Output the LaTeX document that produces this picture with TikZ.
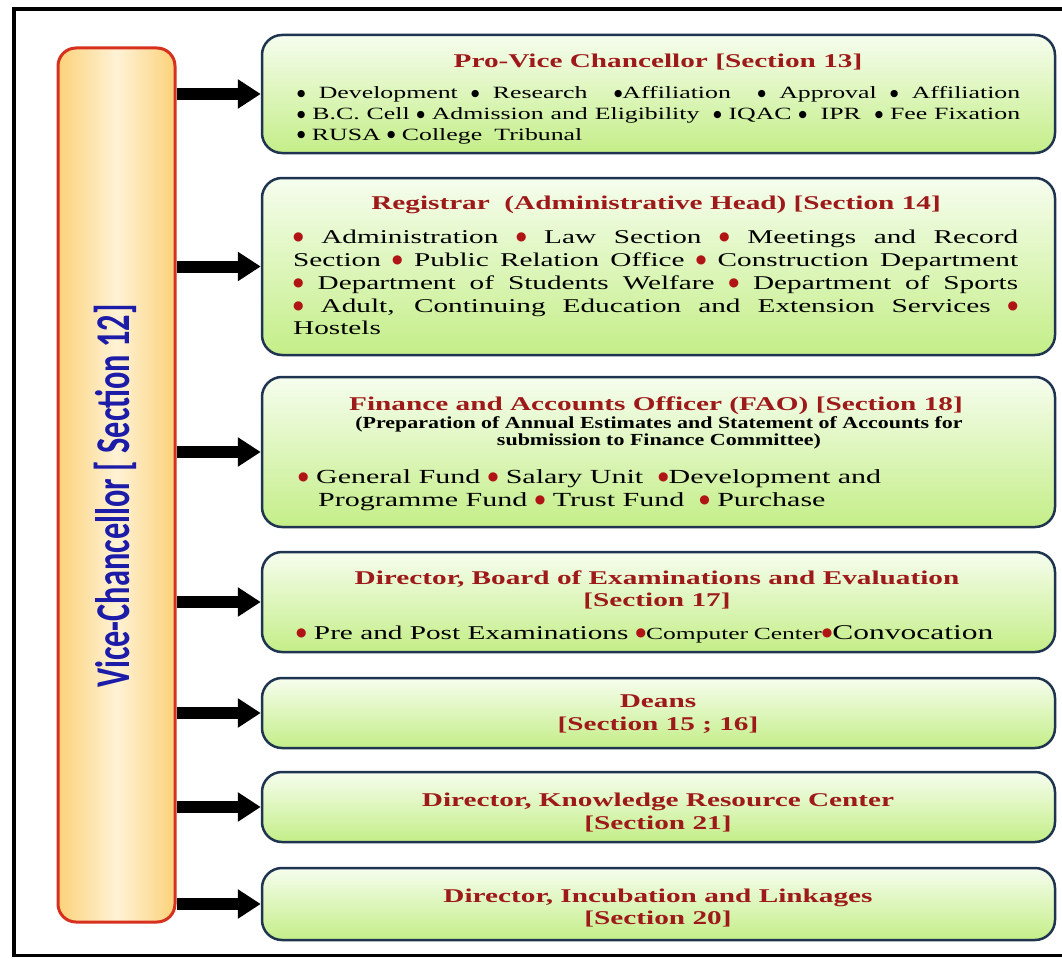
\documentclass[tikz,border=0pt]{standalone}
\usepackage{fontspec}
\setmainfont{Liberation Serif}
\newfontfamily\sfont[FakeStretch=1.5]{Liberation Serif}
\newfontfamily\subfnt[FakeStretch=1.3]{Liberation Serif}
\newfontfamily\vcfont[FakeStretch=0.667]{Carlito}
\newfontfamily\dvfont{DejaVu Sans}
\usetikzlibrary{arrows.meta}
\definecolor{navy}{HTML}{1F3450}
\definecolor{gtop}{HTML}{F6FDEE}
\definecolor{gbot}{HTML}{C4EE88}
\definecolor{vcred}{HTML}{D8301E}
\definecolor{vclight}{HTML}{FFF2D6}
\definecolor{vcdark}{HTML}{FBD27A}
\definecolor{vcblue}{HTML}{1C1CA8}
\definecolor{tred}{HTML}{9E1A1A}
\definecolor{bred}{HTML}{B01414}
\newcommand{\rb}{\smash{\raisebox{2.6pt}{\textcolor{bred}{\dvfont\fontsize{12}{0}\selectfont ●}}}}
\newcommand{\kb}{\smash{\raisebox{2.2pt}{\dvfont\fontsize{9.5}{0}\selectfont ●}}}
\tikzset{
  gbox/.style={draw=navy, line width=2.5pt, rounded corners=20pt, top color=gtop, bottom color=gbot, minimum width=793pt, inner sep=0pt},
  vcbox/.style={draw=vcred, line width=3pt, rounded corners=18pt, left color=vcdark, right color=vcdark, middle color=vclight, inner sep=0pt},
  arr/.style={line width=12pt, -{Triangle[width=28pt,length=23pt]}},
  ttl/.style={anchor=base, inner sep=0pt, text=tred, font=\sfont\bfseries\fontsize{19.5}{23}\selectfont},
  subt/.style={anchor=base, inner sep=0pt, text=black, font=\subfnt\bfseries\fontsize{16.9}{20}\selectfont},
  bodyA/.style={anchor=base west, inner sep=0pt, text=black, font=\sfont\fontsize{17.2}{20.5}\selectfont},
  bodyB/.style={anchor=base west, inner sep=0pt, text=black, font=\sfont\fontsize{19.5}{23}\selectfont},
  bodyC/.style={anchor=base west, inner sep=0pt, text=black, font=\sfont\fontsize{20}{23}\selectfont},
}
\begin{document}
\begin{tikzpicture}[x=1pt,y=-1pt]
\useasboundingbox (0,0) rectangle (1062,963);
\fill[white] (0,0) rectangle (1062,963);
% frame
\draw[line width=3.5pt] (1070,9) -- (14,9) -- (14,955.5) -- (1070,955.5);
% boxes (shapes)
\node[gbox, minimum height=118pt] (b1) at (658.5,94) {};
\node[gbox, minimum height=177pt] (b2) at (658.5,266.5) {};
\node[gbox, minimum height=150pt] (b3) at (658.5,452) {};
\node[gbox, minimum height=100pt] (b4) at (658.5,602) {};
\node[gbox, minimum height=70pt] (b5) at (658.5,713) {};
\node[gbox, minimum height=70pt] (b6) at (658.5,807) {};
\node[gbox, minimum height=72pt] (b7) at (658.5,904) {};
\node[vcbox, minimum width=117pt, minimum height=874pt] (vc) at (116.5,485) {};
% arrows
\foreach \b in {b1,b2,b3,b4,b5,b6,b7}
  \draw[arr] (vc.east |- \b.west) -- (\b.west);
% VC text
\node[rotate=90, inner sep=0pt, text=vcblue, font=\vcfont\bfseries\fontsize{48.5}{50}\selectfont] (vct) at (115,496) {Vice-Chancellor [ Section 12]};
% Box 1
\node[ttl] (t1) at (658,67.5) {Pro-Vice Chancellor [Section 13]};
\node[bodyA] (t1a) at (297,99) {\hbox to 723pt{\kb{} Development \kb{} Research\ \ \kb{}Affiliation\ \ \kb{} Approval \kb{} Affiliation}};
\node[bodyA] (t1b) at (297,119.5) {\hbox to 723pt{\kb{} B.C. Cell \kb{} Admission and Eligibility\ \ \kb{} IQAC \kb{}\ \ IPR\ \ \kb{} Fee Fixation}};
\node[bodyA] (t1c) at (297,140) {\kb{} RUSA \kb{} College\,\, Tribunal};
% Box 2
\node[ttl] (t2) at (656,209.5) {Registrar\ \ (Administrative Head) [Section 14]};
\node[bodyB] (t2a) at (293,243) {\hbox to 725pt{\rb{} Administration \rb{} Law Section \rb{} Meetings and Record}};
\node[bodyB] (t2b) at (293,266) {\hbox to 725pt{Section \rb{} Public Relation Office \rb{} Construction Department}};
\node[bodyB] (t2c) at (293,289) {\hbox to 725pt{\rb{} Department of Students Welfare \rb{} Department of Sports}};
\node[bodyB] (t2d) at (293,312) {\hbox to 725pt{\rb{} Adult, Continuing Education and Extension Services \rb}};
\node[bodyB] (t2e) at (293,334) {Hostels};
% Box 3
\node[ttl] (t3) at (656,410.5) {Finance and Accounts Officer (FAO) [Section 18]};
\node[subt] (t3s1) at (659,428) {(Preparation of Annual Estimates and Statement of Accounts for};
\node[subt] (t3s2) at (659,445) {submission to Finance Committee)};
\node[bodyC] (t3a) at (298,483) {\rb{} General Fund \rb{} Salary Unit\ \ \rb{}Development and};
\node[bodyC] (t3b) at (318,506) {Programme Fund \rb{} Trust Fund\ \ \rb{} Purchase};
% Box 4
\node[ttl] (t4) at (657,584.5) {Director, Board of Examinations and Evaluation};
\node[ttl] (t4s) at (657,606.5) {[Section 17]};
\node[bodyB] (t4a) at (296,639) {\rb{} Pre and Post Examinations \rb{\fontsize{17}{18}\selectfont Computer\,\,Center}\rb{\fontsize{21}{23}\selectfont Convocation}};
% Box 5
\node[ttl] (t5) at (658,707.5) {Deans};
\node[ttl] (t5s) at (658,730.5) {[Section 15 ; 16]};
% Box 6
\node[ttl] (t6) at (658,806.5) {Director, Knowledge Resource Center};
\node[ttl] (t6s) at (658,829.5) {[Section 21]};
% Box 7
\node[ttl] (t7) at (658,902.5) {Director, Incubation and Linkages};
\node[ttl] (t7s) at (658,924.5) {[Section 20]};
\end{tikzpicture}
\end{document}
